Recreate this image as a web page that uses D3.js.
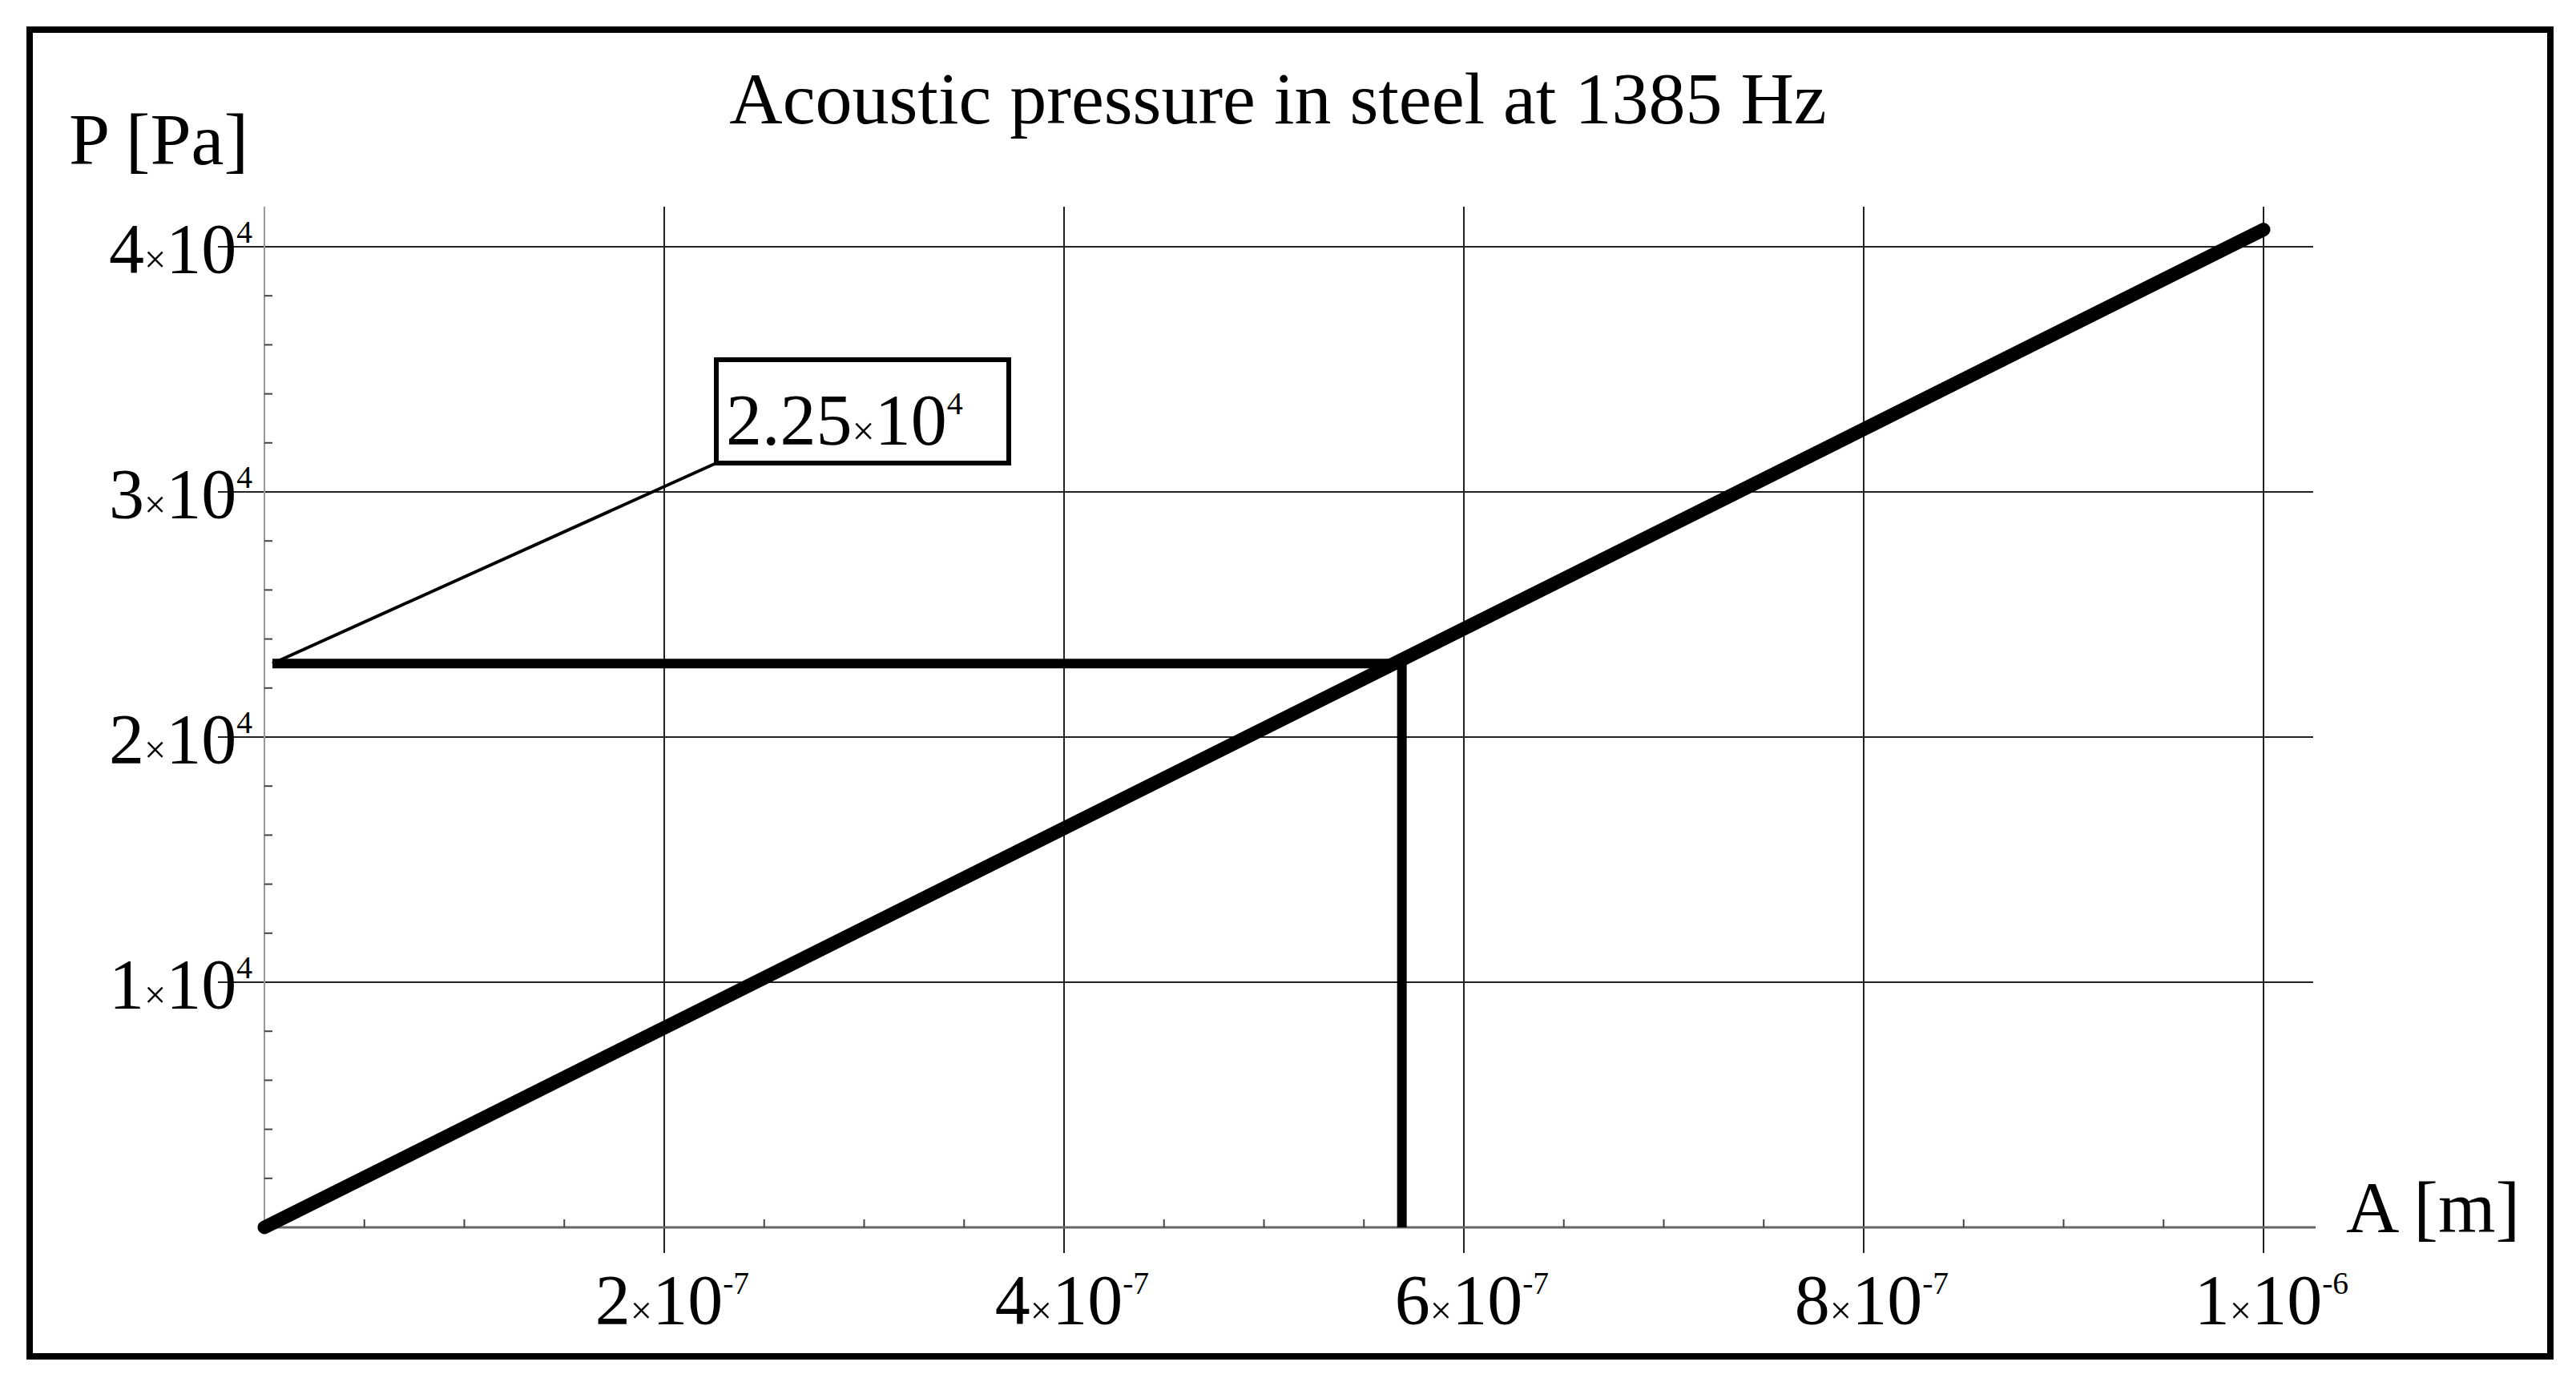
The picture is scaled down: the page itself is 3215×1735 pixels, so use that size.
<!DOCTYPE html>
<html><head><meta charset="utf-8">
<script src="https://cdn.jsdelivr.net/npm/d3@7"></script>
<style>body{margin:0;background:#fff}</style></head>
<body><svg id="c" width="3215" height="1735"></svg>
<script>
const title = "Acoustic pressure in steel at 1385 Hz";
const xTicks = [2e-7, 4e-7, 6e-7, 8e-7, 1e-6];
const xTickMant = ["2","4","6","8","1"];
const xTickExp = ["-7","-7","-7","-7","-6"];
const yTicks = [1e4, 2e4, 3e4, 4e4];
const yTickMant = ["1","2","3","4"];
const lineA = [0, 1e-6];
const lineP = [0, 4.07e4];
const markA = 5.69e-7, markP = 2.30e4;
const calloutLabel = ["2.25", "4"];

const svg = d3.select("#c");
const F = "Liberation Serif, DejaVu Serif, serif";
const x = d3.scaleLinear().domain([0, 1e-6]).range([330, 2825]);
const y = d3.scaleLinear().domain([0, 4e4]).range([1532, 308]);

svg.append("rect").attr("x",37).attr("y",37).attr("width",3146).attr("height",1656)
  .attr("fill","none").attr("stroke","#000").attr("stroke-width",8);

// grid
svg.selectAll(".vg").data(xTicks).join("line")
  .attr("x1",d=>x(d)).attr("x2",d=>x(d)).attr("y1",258).attr("y2",1564)
  .attr("stroke","#222").attr("stroke-width",2);
svg.selectAll(".hg").data(yTicks).join("line")
  .attr("x1",272).attr("x2",2887).attr("y1",d=>y(d)).attr("y2",d=>y(d))
  .attr("stroke","#222").attr("stroke-width",2);

// axes
svg.append("line").attr("x1",330).attr("x2",2890).attr("y1",y(0)).attr("y2",y(0)).attr("stroke","#666").attr("stroke-width",3);
svg.append("line").attr("x1",x(0)).attr("x2",x(0)).attr("y1",258).attr("y2",y(0)).attr("stroke","#999").attr("stroke-width",2);
const xMinor = d3.range(0, 21).map(i=>i*5e-8).filter(v=>v>0 && Math.round(v/2e-7*1000)%1000!==0);
svg.selectAll(".xm").data(xMinor).join("line").attr("x1",d=>x(d)).attr("x2",d=>x(d))
  .attr("y1",y(0)).attr("y2",y(0)-10).attr("stroke","#444").attr("stroke-width",2);
const yMinor = d3.range(1, 21).map(i=>i*2000).filter(v=>v%10000!==0);
svg.selectAll(".ym").data(yMinor).join("line").attr("x1",x(0)).attr("x2",x(0)+10)
  .attr("y1",d=>y(d)).attr("y2",d=>y(d)).attr("stroke","#444").attr("stroke-width",2);

function sci(g, m, e, xx, yy, anchor, fs){
  const t = g.append("text").attr("x",xx).attr("y",yy).attr("text-anchor",anchor)
    .attr("font-family",F).attr("font-size",fs);
  t.append("tspan").text(m);
  t.append("tspan").attr("font-size",fs*0.55).text("\u00d7");
  t.append("tspan").text("10");
  t.append("tspan").attr("font-size",fs*0.45).attr("dy",-fs*0.42).text(e);
  return t;
}
xTicks.forEach((v,i)=>sci(svg, xTickMant[i], xTickExp[i], x(v)+10, 1652, "middle", 88));
yTicks.forEach((v,i)=>sci(svg, yTickMant[i], "4", 315, y(v)+32, "end", 88));

svg.append("text").attr("x",1595).attr("y",154).attr("text-anchor","middle")
  .attr("font-family",F).attr("font-size",92).text(title);
svg.append("text").attr("x",86).attr("y",205).attr("font-family",F).attr("font-size",92).text("P [Pa]");
svg.append("text").attr("x",2928).attr("y",1538).attr("font-family",F).attr("font-size",92).text("A [m]");

// main line
svg.append("path").datum(lineA.map((a,i)=>[a,lineP[i]]))
  .attr("d", d3.line().x(d=>x(d[0])).y(d=>y(d[1])))
  .attr("stroke","#000").attr("stroke-width",17).attr("stroke-linecap","round").attr("fill","none");

// marker lines
svg.append("path").attr("d", d3.line()([[x(0)+10,y(markP)],[x(markA),y(markP)],[x(markA),y(0)]]))
  .attr("stroke","#000").attr("stroke-width",12).attr("fill","none");

// callout
svg.append("line").attr("x1",x(0)+10).attr("y1",y(markP)).attr("x2",894).attr("y2",578)
  .attr("stroke","#000").attr("stroke-width",4);
svg.append("rect").attr("x",894).attr("y",449).attr("width",365).attr("height",129)
  .attr("fill","#fff").attr("stroke","#000").attr("stroke-width",6);
const ct = svg.append("text").attr("x",906).attr("y",555).attr("font-family",F).attr("font-size",90);
ct.append("tspan").text(calloutLabel[0]);
ct.append("tspan").attr("font-size",50).text("\u00d7");
ct.append("tspan").text("10");
ct.append("tspan").attr("font-size",40).attr("dy",-38).text(calloutLabel[1]);
</script></body></html>
